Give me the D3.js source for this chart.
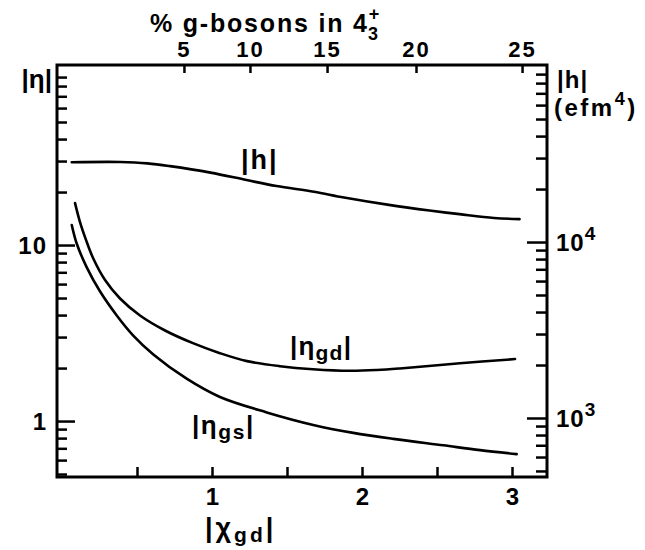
<!DOCTYPE html>
<html>
<head>
<meta charset="utf-8">
<script src="https://d3js.org/d3.v7.min.js"></script>
<style>
  body { margin: 0; background: #fff; }
  svg text { font-family: "Liberation Sans", Arial, sans-serif; font-weight: bold; fill: #000; }
</style>
</head>
<body>
<svg id="chart"></svg>
<script>
  // |h| curve (efm^4) against |chi_gd|
  var hChi = [0.065, 0.39, 0.57, 0.72, 0.99, 1.23, 1.43, 1.68, 1.88, 2.19, 2.45, 2.65, 2.88, 3.05];
  var hVal = [28400, 28500, 28000, 27000, 24800, 22500, 20800, 19300, 17900, 16200, 15100, 14400, 13700, 13500];

  // |eta_gd|
  var gdChi = [0.087, 0.12, 0.16, 0.207, 0.287, 0.387, 0.52, 0.687, 0.873, 1.053, 1.233, 1.453, 1.673, 1.92, 2.10, 2.253, 2.653, 3.02];
  var gdVal = [17.3, 13.5, 10.7, 8.44, 6.33, 4.97, 3.98, 3.27, 2.77, 2.43, 2.19, 2.05, 1.97, 1.93, 1.95, 1.99, 2.13, 2.25];

  // |eta_gs|
  var gsChi = [0.065, 0.098, 0.165, 0.253, 0.365, 0.475, 0.609, 0.831, 1.053, 1.365, 1.675, 1.942, 2.209, 2.542, 2.787, 3.031];
  var gsVal = [13.0, 10.2, 7.47, 5.46, 3.98, 3.06, 2.39, 1.74, 1.37, 1.12, 0.951, 0.857, 0.792, 0.728, 0.684, 0.649];

  // top axis: % g-bosons, with the |chi_gd| each tick sits at
  var pctTicks = [5, 10, 15, 20, 25];
  var pctChi = [0.813, 1.253, 1.767, 2.36, 3.067];

  var chiTicks = [0.5, 1, 1.5, 2, 2.5, 3];
  var chiLabels = [1, 2, 3];
  var etaMajor = [1, 10];
  var etaMinor = [0.5, 0.6, 0.7, 0.8, 0.9, 2, 3, 4, 5, 6, 7, 8, 9, 20, 30, 40, 50, 60, 70, 80, 90];
  var hMajor = [1000, 10000];
  var hMinor = [500, 600, 700, 800, 900, 2000, 3000, 4000, 5000, 6000, 7000, 8000, 9000,
                20000, 30000, 40000, 50000, 60000, 70000, 80000, 90000];

  var W = 645, H = 550;
  var pL = 57, pR = 547, pT = 65, pB = 477;

  var svg = d3.select('#chart').attr('width', W).attr('height', H);

  var x = d3.scaleLinear().domain([-0.0333, 3.2333]).range([pL, pR]);
  var yEta = d3.scaleLog().domain([0.481, 105.4]).range([pB, pT]);
  var yH = d3.scaleLog().domain([462, 101400]).range([pB, pT]);
  var xPct = d3.scaleLinear().domain(pctTicks).range(pctChi.map(function(c) { return x(c); }));

  function styleAxis(g) {
    g.select('.domain').remove();
    g.selectAll('line').attr('stroke', '#000').attr('stroke-width', 2.5);
    g.selectAll('text').attr('font-size', 24).attr('font-family', null);
  }

  // left eta axis
  svg.append('g').attr('transform', 'translate(' + pL + ',0)')
    .call(d3.axisLeft(yEta).tickValues(etaMinor).tickSize(-10).tickFormat(''))
    .call(styleAxis);
  svg.append('g').attr('transform', 'translate(' + pL + ',0)')
    .call(d3.axisLeft(yEta).tickValues(etaMajor).tickSize(-18).tickPadding(10).tickFormat(d3.format('d')))
    .call(styleAxis)
    .selectAll('text').attr('dy', '0.36em').attr('letter-spacing', 1);

  // right |h| axis
  svg.append('g').attr('transform', 'translate(' + pR + ',0)')
    .call(d3.axisRight(yH).tickValues(hMinor).tickSize(-11).tickFormat(''))
    .call(styleAxis);
  var hAx = svg.append('g').attr('transform', 'translate(' + pR + ',0)')
    .call(d3.axisRight(yH).tickValues(hMajor).tickSize(-20).tickPadding(9).tickFormat(''))
    .call(styleAxis);
  hAx.selectAll('text').attr('dy', '0.36em').each(function(d) {
    var t = d3.select(this);
    t.append('tspan').attr('letter-spacing', 1).text('10');
    t.append('tspan').attr('dy', -11).attr('font-size', 19).text(Math.round(Math.log10(d)));
  });

  // bottom chi axis
  svg.append('g').attr('transform', 'translate(0,' + pB + ')')
    .call(d3.axisBottom(x).tickValues(chiTicks).tickSize(-10).tickPadding(11)
      .tickFormat(function(d) { return chiLabels.indexOf(d) >= 0 ? d : ''; }))
    .call(styleAxis)
    .selectAll('text').attr('dy', '0.71em');

  // top % axis
  svg.append('g').attr('transform', 'translate(0,' + pT + ')')
    .call(d3.axisTop(xPct).tickValues(pctTicks).tickSize(-8).tickPadding(8).tickFormat(d3.format('d')))
    .call(styleAxis)
    .selectAll('text').attr('font-size', 22).attr('letter-spacing', 2);

  // frame
  svg.append('rect')
    .attr('x', pL).attr('y', pT)
    .attr('width', pR - pL).attr('height', pB - pT)
    .attr('fill', 'none').attr('stroke', '#000').attr('stroke-width', 3);

  // curves
  var series = [
    { chi: hChi, val: hVal, y: yH },
    { chi: gdChi, val: gdVal, y: yEta },
    { chi: gsChi, val: gsVal, y: yEta }
  ];
  series.forEach(function(s) {
    var pts = s.chi.map(function(c, i) { return [x(c), s.y(s.val[i])]; });
    svg.append('path')
      .attr('d', d3.line().curve(d3.curveCatmullRom.alpha(0.5))(pts))
      .attr('fill', 'none').attr('stroke', '#000').attr('stroke-width', 2.6)
      .attr('stroke-linecap', 'round');
  });

  // axis titles
  var t1 = svg.append('text').attr('x', 150).attr('y', 32).attr('font-size', 25).attr('letter-spacing', 1.8);
  t1.append('tspan').text('% g-bosons in 4');
  t1.append('tspan').attr('font-size', 18).attr('dx', 0).attr('dy', -12).text('+');
  t1.append('tspan').attr('font-size', 18).attr('dx', -13).attr('dy', 20).text('3');

  svg.append('text').attr('x', 52).attr('y', 88).attr('text-anchor', 'end').attr('font-size', 26).text('|η|');
  svg.append('text').attr('x', 557).attr('y', 88).attr('font-size', 24).attr('letter-spacing', 1).text('|h|');
  var ef = svg.append('text').attr('x', 554).attr('y', 116).attr('font-size', 24).attr('letter-spacing', 2.5);
  ef.append('tspan').text('(efm');
  ef.append('tspan').attr('font-size', 18).attr('dy', -11).text('4');
  ef.append('tspan').attr('dy', 11).text(')');

  var xl = svg.append('text').attr('x', 205).attr('y', 537).attr('font-size', 27).attr('letter-spacing', 3);
  xl.append('tspan').text('|χ');
  xl.append('tspan').attr('font-size', 21).attr('dy', 5).text('gd');
  xl.append('tspan').attr('dy', -5).text('|');

  // curve labels
  svg.append('text').attr('x', 241).attr('y', 169).attr('font-size', 27).attr('letter-spacing', 2).text('|h|');
  var lgd = svg.append('text').attr('x', 290).attr('y', 355).attr('font-size', 26).attr('letter-spacing', 1.2);
  lgd.append('tspan').text('|η');
  lgd.append('tspan').attr('font-size', 21).attr('dy', 5).text('gd');
  lgd.append('tspan').attr('dy', -5).text('|');
  var lgs = svg.append('text').attr('x', 192).attr('y', 434).attr('font-size', 26).attr('letter-spacing', 1.6);
  lgs.append('tspan').text('|η');
  lgs.append('tspan').attr('font-size', 21).attr('dy', 5).text('gs');
  lgs.append('tspan').attr('dy', -5).text('|');
</script>
</body>
</html>
